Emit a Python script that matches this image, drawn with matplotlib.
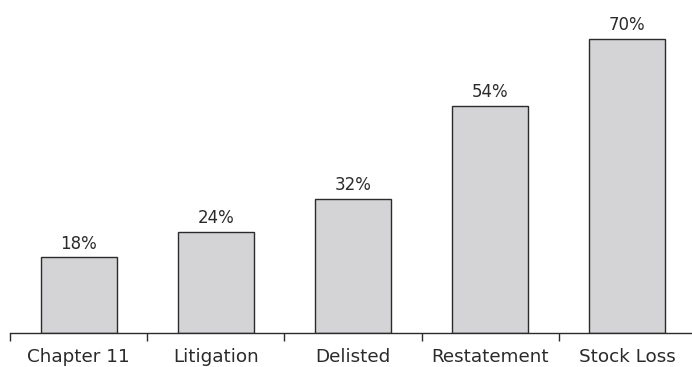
import matplotlib
matplotlib.use("Agg")
import matplotlib.pyplot as plt
import numpy as np

categories = ["Chapter 11", "Litigation", "Delisted", "Restatement", "Stock Loss"]
values = [18, 24, 32, 54, 70]
labels = ["18%", "24%", "32%", "54%", "70%"]

plt.rcParams['font.family'] = ['DejaVu Sans']
fig = plt.figure(figsize=(6.92, 3.67), dpi=100)
ax = fig.add_axes([10/692, 34/367, 686/692, 315/367])

x = np.arange(len(categories))
bars = ax.bar(x, values, width=0.555, color="#d4d4d6", edgecolor="#2b2b2b", linewidth=1.0, zorder=2)
for xi, v, lab in zip(x, values, labels):
    ax.annotate(lab, (xi, v), xytext=(0, 3.5), textcoords="offset points",
                ha="center", va="bottom", fontsize=12, color="#2a2a2a")

ax.set_xlim(-0.5, len(categories) - 0.5)
ax.set_ylim(0, 75)
ax.set_xticks(x)
ax.set_xticklabels(categories, fontsize=13.2, color="#2a2a2a")
ax.set_xticks(np.arange(-0.5, len(categories), 1.0), minor=True)
ax.tick_params(axis="x", which="major", length=0, pad=10.5)
ax.tick_params(axis="x", which="minor", length=5.5, width=1.0, color="#2b2b2b", direction="out")
ax.set_yticks([])
for s in ["left", "right", "top"]:
    ax.spines[s].set_visible(False)
ax.spines["bottom"].set_color("#2b2b2b")
ax.spines["bottom"].set_linewidth(1.0)
ax.patch.set_visible(False)

fig.savefig("out.png", dpi=100)
